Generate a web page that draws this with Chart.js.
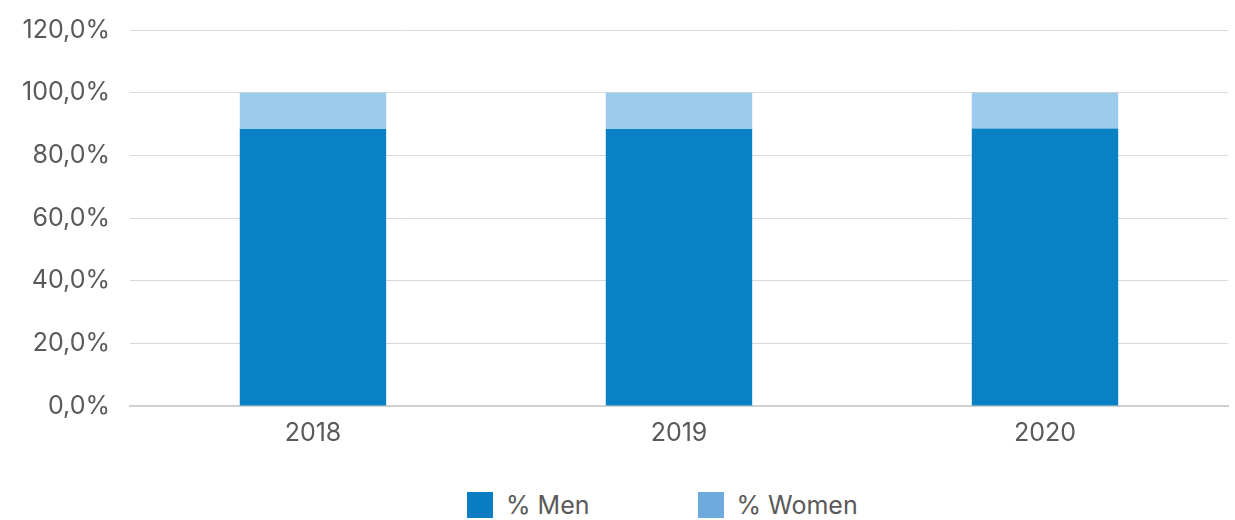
<!DOCTYPE html>
<html>
<head>
<meta charset="utf-8">
<script src="https://cdn.jsdelivr.net/npm/chart.js@4"></script>
<style>
  body { margin: 0; background: #fff; font-family: Inter, "Liberation Sans", Arial, sans-serif; }
  #wrap { position: relative; width: 1235px; height: 520px; }
  #legend { position: absolute; top: 492px; left: 467px; display: flex; gap: 108px; font-size: 25px; color: #595959; }
  #legend span.box { display: inline-block; width: 26px; height: 26px; margin-right: 13px; }
  #legend div { display: flex; align-items: center; height: 26px; }
  canvas { display: block; }
</style>
</head>
<body>
<div id="wrap">
  <canvas id="chart" width="1235" height="460"></canvas>
  <div id="legend"></div>
</div>
<script>
// donnees
var annees = ['2018', '2019', '2020'];
var hommes = [88.4, 88.4, 88.6];
var femmes = [11.6, 11.6, 11.4];
var nomsSeries = ['% Men', '% Women'];

var couleursBarres = ['#0a81c4', '#9ccbee'];
var couleursLegende = ['#0a7dc2', '#6eaadd'];

var ctx = document.getElementById('chart').getContext('2d');

var monGraphique = new Chart(ctx, {
  type: 'bar',
  data: {
    labels: annees,
    datasets: [{
      label: nomsSeries[0],
      data: hommes,
      backgroundColor: couleursBarres[0],
      categoryPercentage: 1,
      barPercentage: 0.4
    }, {
      label: nomsSeries[1],
      data: femmes,
      backgroundColor: couleursBarres[1],
      categoryPercentage: 1,
      barPercentage: 0.4
    }]
  },
  options: {
    responsive: false,
    animation: false,
    layout: { padding: { top: 0, right: 7, left: 2, bottom: 0 } },
    plugins: {
      legend: { display: false },
      tooltip: { enabled: false }
    },
    scales: {
      x: {
        stacked: true,
        grid: { display: false, drawTicks: false },
        border: { color: '#d0d0d0', width: 2 },
        ticks: { color: '#595959', font: { family: 'Inter', size: 25 }, padding: 12 }
      },
      y: {
        stacked: true,
        min: 0,
        max: 120,
        grid: { color: '#d9d9d9', drawTicks: false },
        border: { display: false },
        ticks: {
          stepSize: 20,
          color: '#595959',
          padding: 20,
          font: { family: 'Inter', size: 25, lineHeight: 0.8 },
          callback: function (v) { return v.toFixed(1).replace('.', ',') + '%'; }
        }
      }
    }
  }
});

// legende en html
var legende = document.getElementById('legend');
for (var i = 0; i < nomsSeries.length; i++) {
  var item = document.createElement('div');
  item.innerHTML = '<span class="box" style="background:' + couleursLegende[i] + '"></span>' + nomsSeries[i];
  legende.appendChild(item);
}
</script>
</body>
</html>
